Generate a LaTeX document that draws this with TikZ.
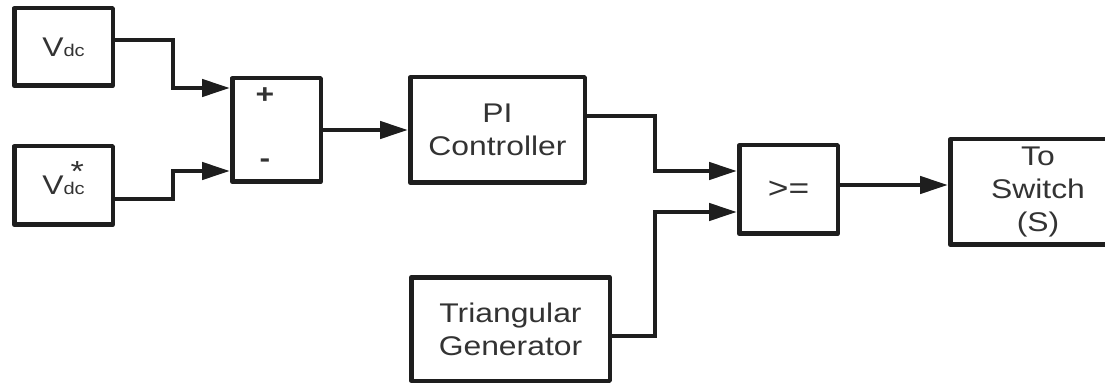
\documentclass[tikz,border=0pt]{standalone}
\usepackage{fontspec}
\setmainfont{Liberation Sans}[FakeStretch=1.18]
\usetikzlibrary{arrows.meta}
\definecolor{lc}{HTML}{1E1E1E}
\definecolor{tc}{HTML}{333333}
\begin{document}
\begin{tikzpicture}[x=1pt,y=-1pt,
  block/.style={draw=lc, line width=4.5pt, rectangle, inner sep=0pt, text=tc, align=center,
    line join=round, font=\fontsize{27}{33}\selectfont},
  sign/.style={text=tc, inner sep=0pt, font=\bfseries\fontsize{27}{27}\selectfont},
  arr/.style={draw=lc, line width=4.5pt, -{Triangle[length=28pt,width=17pt]}}]
\useasboundingbox (0,0) rectangle (1105,387);
\clip (0,0) rectangle (1105,387);
\fill[white] (0,0) rectangle (1105,387);
\node[block, minimum width=98.5pt, minimum height=77.5pt] (vdc) at (63.5,47)
  {V{\fontsize{17}{17}\selectfont dc}};
\node[block, minimum width=98.5pt, minimum height=78.5pt] (vref) at (63.5,185.5)
  {V\rlap{\hspace{7pt}\smash{\raisebox{13.5pt}{\fontsize{29}{29}\selectfont *}}}{\fontsize{17}{17}\selectfont dc}};
\node[block, minimum width=88.5pt, minimum height=103.5pt] (sum) at (276.5,130) {};
\node[sign] (plus) at (265,96) {+};
\node[sign] (minus) at (265,163) {-};
\node[block, minimum width=174.5pt, minimum height=105.5pt] (pi) at (497.5,130) {PI\\Controller};
\node[block, minimum width=198.5pt, minimum height=103.5pt] (tri) at (510.5,329) {Triangular\\Generator};
\node[block, minimum width=98.5pt, minimum height=88.5pt, font=\fontsize{30}{30}\selectfont] (cmp) at (788.5,189.5) {>=};
\node[block, minimum width=175.5pt, minimum height=105.5pt] (sw) at (1038,192) {To\\Switch\\(S)};
\coordinate (s1) at ([yshift=42pt]sum.west);
\coordinate (s2) at ([yshift=-41pt]sum.west);
\draw[arr] ([yshift=7pt]vdc.east) -| ([xshift=-57pt]s1) -- (s1);
\draw[arr] ([yshift=-13.5pt]vref.east) -| ([xshift=-57pt]s2) -- (s2);
\draw[arr] (sum.east) -- (sum.east -| pi.west);
\coordinate (c1) at ([yshift=18.5pt]cmp.west);
\coordinate (c2) at ([yshift=-22.5pt]cmp.west);
\draw[arr] ([yshift=14pt]pi.east) -| ([xshift=-82pt]c1) -- (c1);
\draw[arr] ([yshift=-7pt]tri.east) -| ([xshift=-82pt]c2) -- (c2);
\coordinate (o1) at ([yshift=4.5pt]cmp.east);
\draw[arr] (o1) -- (o1 -| sw.west);
\end{tikzpicture}
\end{document}
